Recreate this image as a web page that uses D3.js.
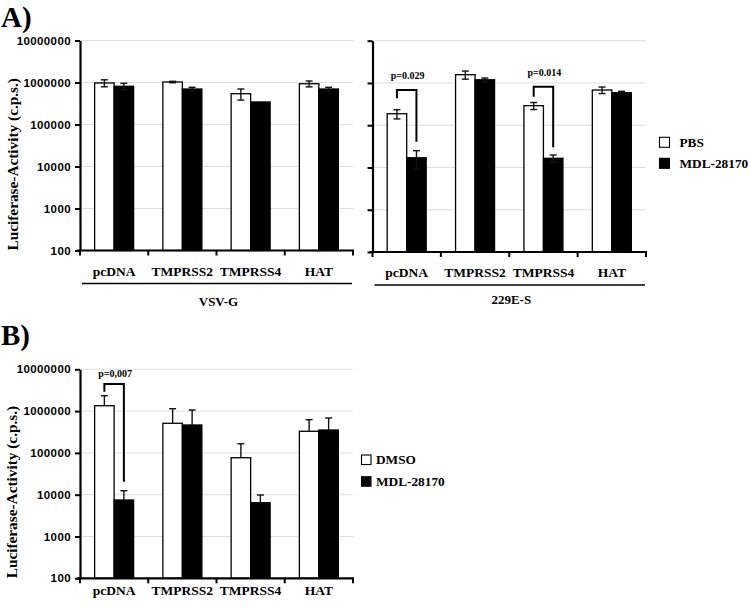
<!DOCTYPE html>
<html><head><meta charset="utf-8">
<script src="https://cdn.jsdelivr.net/npm/d3@7"></script>
<style>body{margin:0;background:#fff}svg{display:block}</style>
</head><body>
<svg id="c" width="750" height="607"></svg>
<script>
// ---------- DATA ----------
const categories = ["pcDNA", "TMPRSS2", "TMPRSS4", "HAT"];
const yTicks = [100, 1000, 10000, 100000, 1000000, 10000000];
const yTickLabels = ["100", "1000", "10000", "100000", "1000000", "10000000"];

// Panel A, VSV-G
const vsvPBS = [975000, 1028000, 541000, 936000];
const vsvPBSErr = [185000, 40000, 160000, 150000];
const vsvMDL = [813000, 700000, 344000, 700000];
const vsvMDLErr = [144000, 69000, 0, 69000];

// Panel A, 229E-S
const e229PBS = [187000, 1570000, 290000, 681000];
const e229PBSErr = [46000, 340000, 55000, 120000];
const e229MDL = [17000, 1190000, 16500, 589000];
const e229MDLErr = [8000, 120000, 3200, 46000];

// Panel B
const bDMSO = [1346000, 511000, 76700, 329000];
const bDMSOErr = [990000, 630000, 89000, 293000];
const bMDL = [7470, 465000, 6440, 353000];
const bMDLErr = [5000, 596000, 3400, 331000];

// significance brackets: [category, top value, left leg end, right leg end, label]
const sigA229 = [
  ["pcDNA", 681000, 434000, 40700, "p=0.029"],
  ["TMPRSS4", 816000, 473000, 30100, "p=0.014"]
];
const sigB = [
  ["pcDNA", 4450000, 2910000, 20500, "p=0,007"]
];

const legendA = ["PBS", "MDL-28170"];
const legendB = ["DMSO", "MDL-28170"];

// ---------- DRAWING ----------
const svg = d3.select("#c");
const SERIF = "'Liberation Serif','Times New Roman',serif";
const SANS = "'Liberation Sans',Arial,sans-serif";

function panel(o) {
  const g = svg.append("g");
  const x = d3.scaleBand().domain(categories).range([o.x0, o.x1]).padding(0);
  const y = d3.scaleLog().domain([100, 10000000]).range([o.yBot, o.yTop]);
  const bw = 19.5;

  // gridlines
  g.selectAll("line.grid").data(yTicks.slice(1)).enter().append("line")
    .attr("x1", o.x0).attr("x2", o.x1)
    .attr("y1", d => y(d)).attr("y2", d => y(d))
    .attr("stroke", "#dedede").attr("stroke-width", 1);

  // bars
  const series = [
    {vals: o.s1, err: o.e1, fill: "#fff", i: 0},
    {vals: o.s2, err: o.e2, fill: "#000", i: 1}
  ];
  series.forEach(s => {
    categories.forEach((c, k) => {
      const bx = x(c) + x.bandwidth() / 2 - bw + s.i * bw;
      const v = s.vals[k];
      g.append("rect")
        .attr("x", bx).attr("y", y(v))
        .attr("width", bw).attr("height", y(100) - y(v))
        .attr("fill", s.fill).attr("stroke", "#000").attr("stroke-width", 1.3);
      const e = s.err[k];
      if (e > 0) {
        const cx = bx + bw / 2;
        const top = y(v + e);
        const bot = o.twoSided ? y(Math.max(v - e, 101)) : y(v);
        const col = "#111";
        g.append("line").attr("x1", cx).attr("x2", cx).attr("y1", top).attr("y2", bot)
          .attr("stroke", col).attr("stroke-width", 1.4);
        g.append("line").attr("x1", cx - 3.5).attr("x2", cx + 3.5).attr("y1", top).attr("y2", top)
          .attr("stroke", col).attr("stroke-width", 1.4);
        if (o.twoSided) {
          g.append("line").attr("x1", cx - 3.5).attr("x2", cx + 3.5).attr("y1", bot).attr("y2", bot)
            .attr("stroke", col).attr("stroke-width", 1.4);
        }
      }
    });
  });

  // y axis
  const ya = d3.axisLeft(y).tickValues(yTicks).tickSize(5).tickSizeOuter(0).tickPadding(4)
    .tickFormat((d, i) => o.tickLabels ? yTickLabels[i] : "");
  const ag = g.append("g").attr("transform", `translate(${o.x0},0)`).call(ya);
  ag.select(".domain").attr("stroke", "#000").attr("stroke-width", 2.2);
  ag.selectAll(".tick line").attr("stroke", "#000").attr("stroke-width", 2);
  ag.selectAll(".tick text").attr("font-family", SANS).attr("font-weight", "bold")
    .attr("font-size", "11.5px").attr("letter-spacing", "0.4px").attr("fill", "#000");

  // x axis
  const bounds = categories.map(c => x(c)).concat([o.x1]);
  g.append("line").attr("x1", o.x0 - 3).attr("x2", o.x1 + 1).attr("y1", o.yBot).attr("y2", o.yBot)
    .attr("stroke", "#000").attr("stroke-width", 2.2);
  g.selectAll("line.xt").data(bounds).enter().append("line")
    .attr("x1", d => d).attr("x2", d => d).attr("y1", o.yBot).attr("y2", o.yBot + 5)
    .attr("stroke", "#000").attr("stroke-width", 2);

  // category labels
  g.selectAll("text.cat").data(categories).enter().append("text")
    .attr("x", d => x(d) + x.bandwidth() / 2).attr("y", o.yBot + o.catDy)
    .attr("text-anchor", "middle").attr("font-family", SERIF).attr("font-weight", "bold")
    .attr("font-size", "13.5px").text(d => d);

  // group label
  if (o.group) {
    g.append("line").attr("x1", o.x0 + 2).attr("x2", o.x1 - 1)
      .attr("y1", o.yBot + 33).attr("y2", o.yBot + 33)
      .attr("stroke", "#000").attr("stroke-width", 1.5);
    g.append("text").attr("x", (o.x0 + o.x1) / 2 + 2).attr("y", o.yBot + o.groupDy)
      .attr("text-anchor", "middle").attr("font-family", SERIF).attr("font-weight", "bold")
      .attr("font-size", "13px").text(o.group);
  }

  // significance brackets
  (o.sig || []).forEach(s => {
    const c = s[0];
    const lx = x(c) + x.bandwidth() / 2 - bw / 2;
    const rx = x(c) + x.bandwidth() / 2 + bw / 2;
    const ty = y(s[1]);
    g.append("path")
      .attr("d", `M${lx},${y(s[2])}V${ty}H${rx}V${y(s[3])}`)
      .attr("fill", "none").attr("stroke", "#000").attr("stroke-width", 2);
    g.append("text").attr("x", (lx + rx) / 2 + 1).attr("y", ty - o.sigDy)
      .attr("text-anchor", "middle").attr("font-family", SERIF).attr("font-weight", "bold")
      .attr("font-size", "10px").text(s[4]);
  });

  // y title
  if (o.title) {
    svg.append("text")
      .attr("transform", `translate(${o.titleX},${o.yBot}) rotate(-90)`)
      .attr("text-anchor", "start").attr("font-family", SERIF).attr("font-weight", "bold")
      .attr("font-size", "15.3px").text("Luciferase-Activity (c.p.s.)");
  }
}

function legend(items, lx, ly, gap, box, textGap) {
  const lg = svg.append("g");
  items.forEach((t, i) => {
    lg.append("rect").attr("x", lx).attr("y", ly + i * gap).attr("width", box).attr("height", box)
      .attr("fill", i === 0 ? "#fff" : "#000").attr("stroke", "#000").attr("stroke-width", 1.1);
    lg.append("text").attr("x", lx + box + textGap).attr("y", ly + i * gap + box - 0.5)
      .attr("font-family", SERIF).attr("font-weight", "bold").attr("font-size", "13.3px").text(t);
  });
}

// Panel labels
svg.append("text").attr("x", 1).attr("y", 26.5).attr("font-family", SERIF).attr("font-weight", "bold")
  .attr("font-size", "29px").text("A)");
svg.append("text").attr("x", 1).attr("y", 345).attr("font-family", SERIF).attr("font-weight", "bold")
  .attr("font-size", "29px").text("B)");

panel({x0: 80, x1: 353, yTop: 40.5, yBot: 250.5, s1: vsvPBS, e1: vsvPBSErr, s2: vsvMDL, e2: vsvMDLErr,
  twoSided: true, tickLabels: true, catDy: 25.5, group: "VSV-G", groupDy: 55.5, title: true, titleX: 18});
panel({x0: 372.5, x1: 646, yTop: 40.7, yBot: 252, s1: e229PBS, e1: e229PBSErr, s2: e229MDL, e2: e229MDLErr,
  twoSided: true, tickLabels: false, catDy: 24.5, group: "229E-S", groupDy: 52, sig: sigA229, sigDy: 11});
panel({x0: 80, x1: 353, yTop: 369.3, yBot: 578.3, s1: bDMSO, e1: bDMSOErr, s2: bMDL, e2: bMDLErr,
  twoSided: false, tickLabels: true, catDy: 16.5, sig: sigB, sigDy: 6.5, title: true, titleX: 17});

legend(legendA, 659.5, 137.3, 21, 10, 10);
legend(legendB, 361.5, 455, 21.7, 9.5, 5);
</script>
</body></html>
